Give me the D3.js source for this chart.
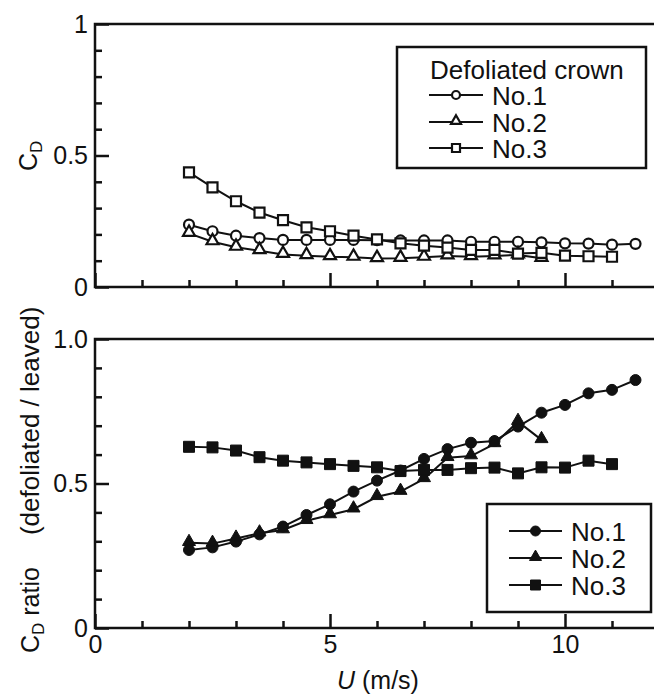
<!DOCTYPE html>
<html>
<head>
<meta charset="utf-8">
<script src="https://cdn.jsdelivr.net/npm/d3@7"></script>
<style>
  html, body { margin: 0; padding: 0; background: #fff; }
  svg { display: block; font-family: "Liberation Sans", Arial, Helvetica, sans-serif; }
</style>
</head>
<body>
<svg id="chart" width="654" height="694"></svg>
<script>
// ---------- data ----------
const uNo1 = [2,2.5,3,3.5,4,4.5,5,5.5,6,6.5,7,7.5,8,8.5,9,9.5,10,10.5,11,11.5];
const uNo2 = [2,2.5,3,3.5,4,4.5,5,5.5,6,6.5,7,7.5,8,8.5,9,9.5];
const uNo3 = [2,2.5,3,3.5,4,4.5,5,5.5,6,6.5,7,7.5,8,8.5,9,9.5,10,10.5,11];

const cdNo1 = [0.237,0.212,0.195,0.186,0.179,0.179,0.179,0.179,0.178,0.177,0.177,0.177,0.172,0.172,0.172,0.170,0.166,0.165,0.161,0.164];
const cdNo2 = [0.204,0.172,0.151,0.138,0.124,0.119,0.115,0.113,0.108,0.109,0.113,0.118,0.115,0.118,0.122,0.109];
const cdNo3 = [0.436,0.379,0.326,0.283,0.254,0.227,0.212,0.195,0.181,0.166,0.157,0.150,0.141,0.141,0.127,0.130,0.119,0.117,0.115];

const ratioNo1 = [0.270,0.279,0.299,0.324,0.351,0.391,0.428,0.472,0.510,0.545,0.585,0.619,0.641,0.647,0.697,0.745,0.772,0.812,0.824,0.858];
const ratioNo2 = [0.295,0.292,0.310,0.328,0.339,0.371,0.391,0.411,0.454,0.472,0.516,0.589,0.595,0.637,0.714,0.651];
const ratioNo3 = [0.627,0.625,0.614,0.591,0.579,0.573,0.567,0.561,0.556,0.543,0.547,0.547,0.553,0.555,0.535,0.556,0.555,0.579,0.567];

const seriesNames = ["No.1","No.2","No.3"];
const topLegendTitle = "Defoliated crown";
const xMajorTicks = [0,5,10];
const xMajorLabels = ["0","5","10"];
const xMinorTicks = [1,2,3,4,6,7,8,9,11];
const yMajorTicks = [0,0.5,1];
const yTopLabels = ["0","0.5","1"];
const yBotLabels = ["0","0.5","1.0"];
const yMinorTicks = [0.1,0.2,0.3,0.4,0.6,0.7,0.8,0.9];

// ---------- layout ----------
const svg = d3.select("#chart");
const x = d3.scaleLinear().domain([0,12]).range([95,659]);
const yTop = d3.scaleLinear().domain([0,1]).range([287,24]);
const yBot = d3.scaleLinear().domain([0,1]).range([628,339]);

const FS_TICK = 25, FS_LAB = 25, FS_LEG = 26;
const FRAME_W = 2.5, LINE_W = 2;

function drawPanel(y, yLabels, showXLabels) {
  const g = svg.append("g");
  g.append("g").attr("transform",`translate(0,${y(0)})`)
    .call(d3.axisBottom(x).tickValues(xMinorTicks).tickSize(-7).tickFormat(""))
    .call(s => s.select(".domain").remove());
  const gx = g.append("g").attr("transform",`translate(0,${y(0)})`)
    .call(d3.axisBottom(x).tickValues(xMajorTicks).tickSize(-14).tickPadding(7)
      .tickFormat((d,i) => showXLabels ? xMajorLabels[i] : ""))
    .call(s => s.select(".domain").remove());
  gx.selectAll("text").attr("font-size", FS_TICK).attr("fill","#111").attr("font-family","Liberation Sans, Arial, sans-serif");
  g.append("g").attr("transform",`translate(${x(0)},0)`)
    .call(d3.axisLeft(y).tickValues(yMinorTicks).tickSize(-7).tickFormat(""))
    .call(s => s.select(".domain").remove());
  const gy = g.append("g").attr("transform",`translate(${x(0)},0)`)
    .call(d3.axisLeft(y).tickValues(yMajorTicks).tickSize(-14).tickPadding(7)
      .tickFormat((d,i) => yLabels[i]))
    .call(s => s.select(".domain").remove());
  gy.selectAll("text").attr("font-size", FS_TICK).attr("fill","#111").attr("font-family","Liberation Sans, Arial, sans-serif");
  g.selectAll(".tick line").attr("stroke","#111").attr("stroke-width",FRAME_W);
  g.append("rect")
    .attr("x", x(0)).attr("y", y(1))
    .attr("width", x(12)-x(0)).attr("height", y(0)-y(1))
    .attr("fill","none").attr("stroke","#111").attr("stroke-width",FRAME_W);
  return g;
}

drawPanel(yTop, yTopLabels, false);
drawPanel(yBot, yBotLabels, true);

// ---------- markers ----------
function marker(sel, type, size, filled) {
  const fill = filled ? "#111" : "#fff";
  const sym = type === "circle" ? d3.symbolCircle : type === "triangle" ? d3.symbolTriangle : d3.symbolSquare;
  const area = type === "circle" ? Math.PI*size*size/4 :
               type === "triangle" ? size*size*Math.sqrt(3)/4 : size*size;
  sel.append("path")
    .attr("d", d3.symbol().type(sym).size(area)())
    .attr("fill", fill).attr("stroke","#111").attr("stroke-width", filled ? 1 : 2.2);
}

const types = ["circle","triangle","square"];
const sizesTop = [10, 12, 10];
const sizesBot = [11, 13, 11];

function drawSeries(y, us, vs, type, size, filled) {
  const pts = us.map((u,i) => [u, vs[i]]);
  const line = d3.line().x(d => x(d[0])).y(d => y(d[1]));
  svg.append("path").datum(pts).attr("d", line)
    .attr("fill","none").attr("stroke","#111").attr("stroke-width",LINE_W);
  svg.append("g").selectAll("g").data(pts).join("g")
    .attr("transform", d => {
      const dy = type === "triangle" ? -1 : 0;
      return `translate(${x(d[0])},${y(d[1])+dy})`;
    })
    .each(function(){ marker(d3.select(this), type, size, filled); });
}

const topU = [uNo1,uNo2,uNo3], topV = [cdNo1,cdNo2,cdNo3];
const botU = [uNo1,uNo2,uNo3], botV = [ratioNo1,ratioNo2,ratioNo3];
for (let i=0;i<3;i++) drawSeries(yTop, topU[i], topV[i], types[i], sizesTop[i], false);
for (let i=0;i<3;i++) drawSeries(yBot, botU[i], botV[i], types[i], sizesBot[i], true);

// ---------- legends ----------
function legend(box, title, rowYs, lineX0, lineX1, textX, filled, msizes) {
  const g = svg.append("g");
  g.append("rect").attr("x",box[0]).attr("y",box[1]).attr("width",box[2]-box[0]).attr("height",box[3]-box[1])
    .attr("fill","#fff").attr("stroke","#111").attr("stroke-width",FRAME_W);
  if (title) {
    g.append("text").attr("x", title.x).attr("y", title.y).attr("font-size", FS_LEG)
      .attr("fill","#111").text(title.text);
  }
  seriesNames.forEach((name,i) => {
    const ly = rowYs[i];
    g.append("line").attr("x1",lineX0).attr("x2",lineX1).attr("y1",ly-10).attr("y2",ly-10)
      .attr("stroke","#111").attr("stroke-width",LINE_W);
    const m = g.append("g").attr("transform",`translate(${(lineX0+lineX1)/2},${ly-10 - (types[i]==="triangle"?1:0)})`);
    marker(m, types[i], msizes[i], filled);
    g.append("text").attr("x",textX).attr("y",ly).attr("font-size",FS_LEG).attr("fill","#111").text(name);
  });
}

legend([397,47,646,168], {x:430, y:79, text: topLegendTitle}, [105,132,158], 429, 483, 492, false, [8,10,8]);
legend([487,504,651,612], null, [541,568,595], 509, 562, 571, true, [10,12,10]);

// ---------- axis labels ----------
const yl1 = svg.append("text")
  .attr("transform","translate(37,171) rotate(-90)")
  .attr("font-size", FS_LAB).attr("fill","#111");
yl1.append("tspan").text("C");
yl1.append("tspan").attr("font-size",17).attr("dy",5).text("D");

const yl2 = svg.append("text")
  .attr("transform","translate(39,653) rotate(-90)")
  .attr("font-size", FS_LAB).attr("fill","#111");
yl2.append("tspan").text("C");
yl2.append("tspan").attr("font-size",17).attr("dy",5).text("D");
yl2.append("tspan").attr("dy",-5).text(" ratio");
yl2.append("tspan").attr("dx",32).attr("font-size",26).text("(defoliated / leaved)");

const xl = svg.append("text").attr("x",337).attr("y",689).attr("font-size",FS_LAB).attr("fill","#111");
xl.append("tspan").attr("font-style","italic").text("U");
xl.append("tspan").text(" (m/s)");
</script>
</body>
</html>
